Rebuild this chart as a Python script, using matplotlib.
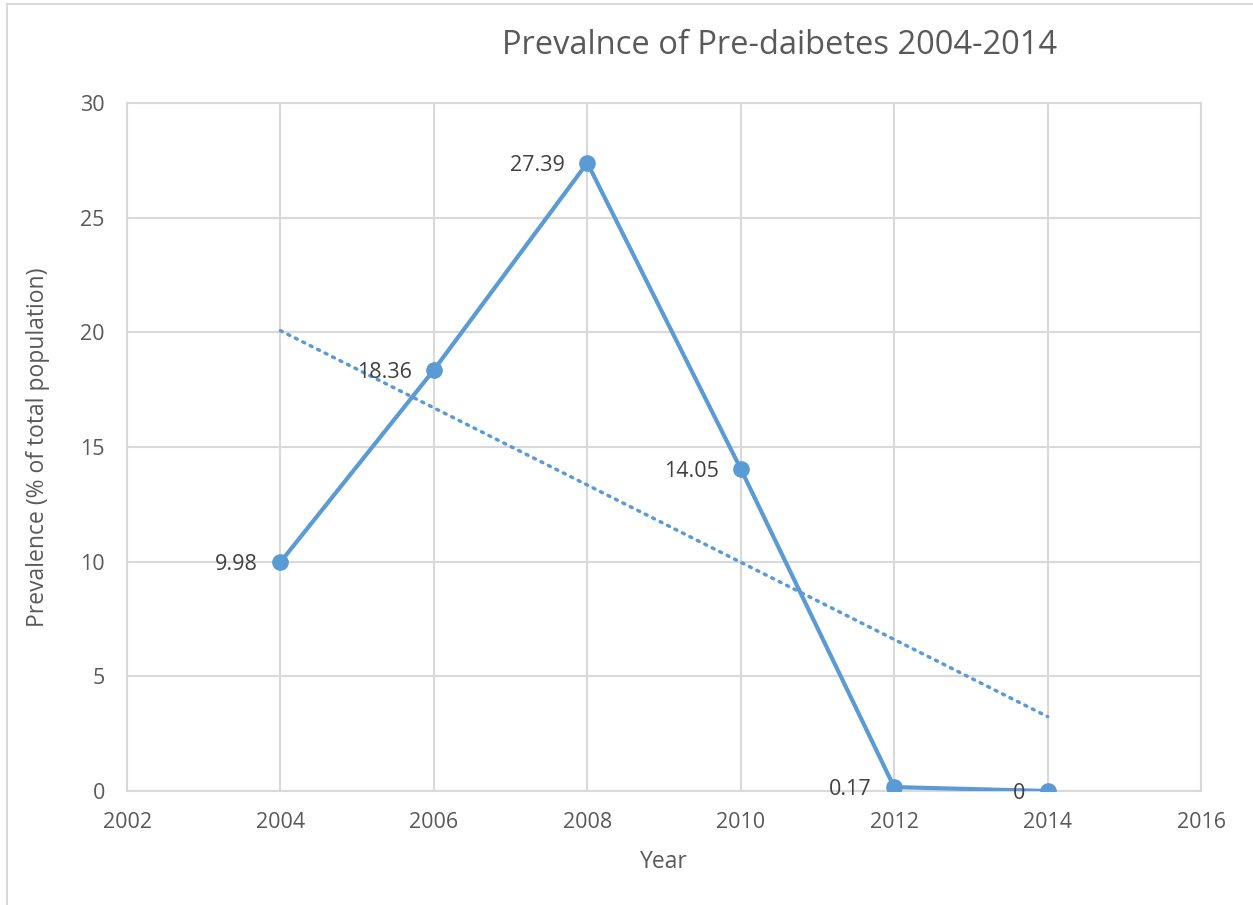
import numpy as np
import matplotlib.pyplot as plt
from matplotlib.lines import Line2D

years = [2004, 2006, 2008, 2010, 2012, 2014]
prevalence = [9.98, 18.36, 27.39, 14.05, 0.17, 0]
labels = ['9.98', '18.36', '27.39', '14.05', '0.17', '0']
xticks = [2002, 2004, 2006, 2008, 2010, 2012, 2014, 2016]
yticks = [0, 5, 10, 15, 20, 25, 30]

plt.rcParams['font.family'] = ['Open Sans', 'DejaVu Sans']
blue = '#5B9BD5'
grey_text = '#595959'
grid = '#D9D9D9'

fig = plt.figure(figsize=(12.53, 9.05), dpi=100)
ax = fig.add_axes([127/1253, 1 - 791/905, (1201 - 127)/1253, (791 - 103)/905])

ax.plot(years, prevalence, color=blue, lw=3, marker='o', ms=11, zorder=3)

# linear trendline, same as excel
slope, icept = np.polyfit(years, prevalence, 1)
tx = np.array([years[0], years[-1]])
ax.plot(tx, slope*tx + icept, color=blue, lw=2.5, ls=(0, (0.6, 1.8)), dash_capstyle='round', zorder=2)

for x, y, t in zip(years, prevalence, labels):
    ax.annotate(t, (x, y), xytext=(-16, 0), textcoords='offset points',
                ha='right', va='center_baseline', fontsize=15.5, color='#404040', zorder=4)

ax.set_xlim(2002, 2016)
ax.set_ylim(0, 30)
ax.set_xticks(xticks)
ax.set_yticks(yticks)
ax.grid(True, color=grid, lw=1.5)
ax.set_axisbelow(True)
for s in ax.spines.values():
    s.set_color(grid)
    s.set_linewidth(1.5)
ax.tick_params(length=0, labelsize=15.5, labelcolor=grey_text)
ax.tick_params(axis='x', pad=15)
ax.tick_params(axis='y', pad=16)

ax.set_xlabel('Year', fontsize=16.5, color=grey_text, labelpad=12)
ax.set_ylabel('Prevalence (% of total population)', fontsize=16.5, color=grey_text, labelpad=22)
fig.text(780/1253, 1 - 45/905, 'Prevalnce of Pre-daibetes 2004-2014', fontsize=23.5,
         color=grey_text, ha='center', va='center')

# chart border (only top and left visible)
fig.add_artist(Line2D([7/1253, 7/1253], [0, 1 - 4/905], transform=fig.transFigure, color=grid, lw=1.5))
fig.add_artist(Line2D([7/1253, 1], [1 - 4/905, 1 - 4/905], transform=fig.transFigure, color=grid, lw=1.5))

plt.savefig('out.png')
